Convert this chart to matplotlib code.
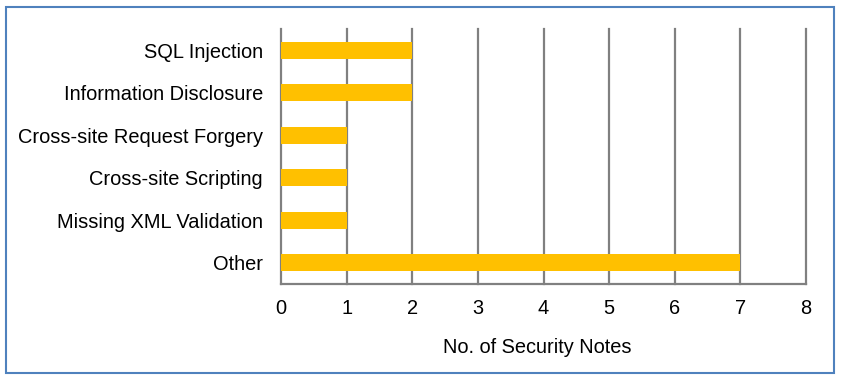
import matplotlib
matplotlib.use("Agg")
import matplotlib.pyplot as plt
from matplotlib.patches import Rectangle

categories = ["SQL Injection", "Information Disclosure", "Cross-site Request Forgery",
              "Cross-site Scripting", "Missing XML Validation", "Other"]
values = [2, 2, 1, 1, 1, 7]
xticks = [0, 1, 2, 3, 4, 5, 6, 7, 8]
xlabel = "No. of Security Notes"

plt.rcParams['font.family'] = ['Liberation Sans', 'DejaVu Sans']
FS = 14.4

W, H = 841, 383
fig = plt.figure(figsize=(W / 100, H / 100), dpi=100)
fig.patch.set_facecolor("white")

ax = fig.add_axes([281 / W, 1 - 284 / H, (806 - 281) / W, (284 - 29) / H])
ypos = list(range(len(categories)))
ax.barh(ypos, values, height=0.4, color="#FFC000", zorder=3)
ax.set_ylim(len(categories) - 0.5, -0.5)
ax.set_xlim(0, 8)
ax.set_yticks(ypos)
ax.set_yticklabels(categories, fontsize=FS)
ax.set_xticks(xticks)
ax.set_xticklabels([str(t) for t in xticks], fontsize=FS)
ax.tick_params(axis="both", length=0)
ax.tick_params(axis="y", pad=13)
ax.tick_params(axis="x", pad=11)
ax.grid(axis="x", color="#808080", linewidth=1.6, zorder=0)
for gl in ax.get_xgridlines():
    gl.set_clip_on(False)
for s in ["top", "right", "left"]:
    ax.spines[s].set_visible(False)
ax.spines["bottom"].set_color("#808080")
ax.spines["bottom"].set_linewidth(1.6)
ax.set_xlabel(xlabel, fontsize=FS, labelpad=14)
ax.xaxis.label.set_x((537 - 281) / (806 - 281))

fig.patches.append(Rectangle((6 / W, 1 - 373 / H), (834 - 6) / W, (373 - 7) / H,
                             transform=fig.transFigure, fill=False,
                             edgecolor="#4F81BD", linewidth=1.5))

fig.savefig("out.png", dpi=100, facecolor="white")
